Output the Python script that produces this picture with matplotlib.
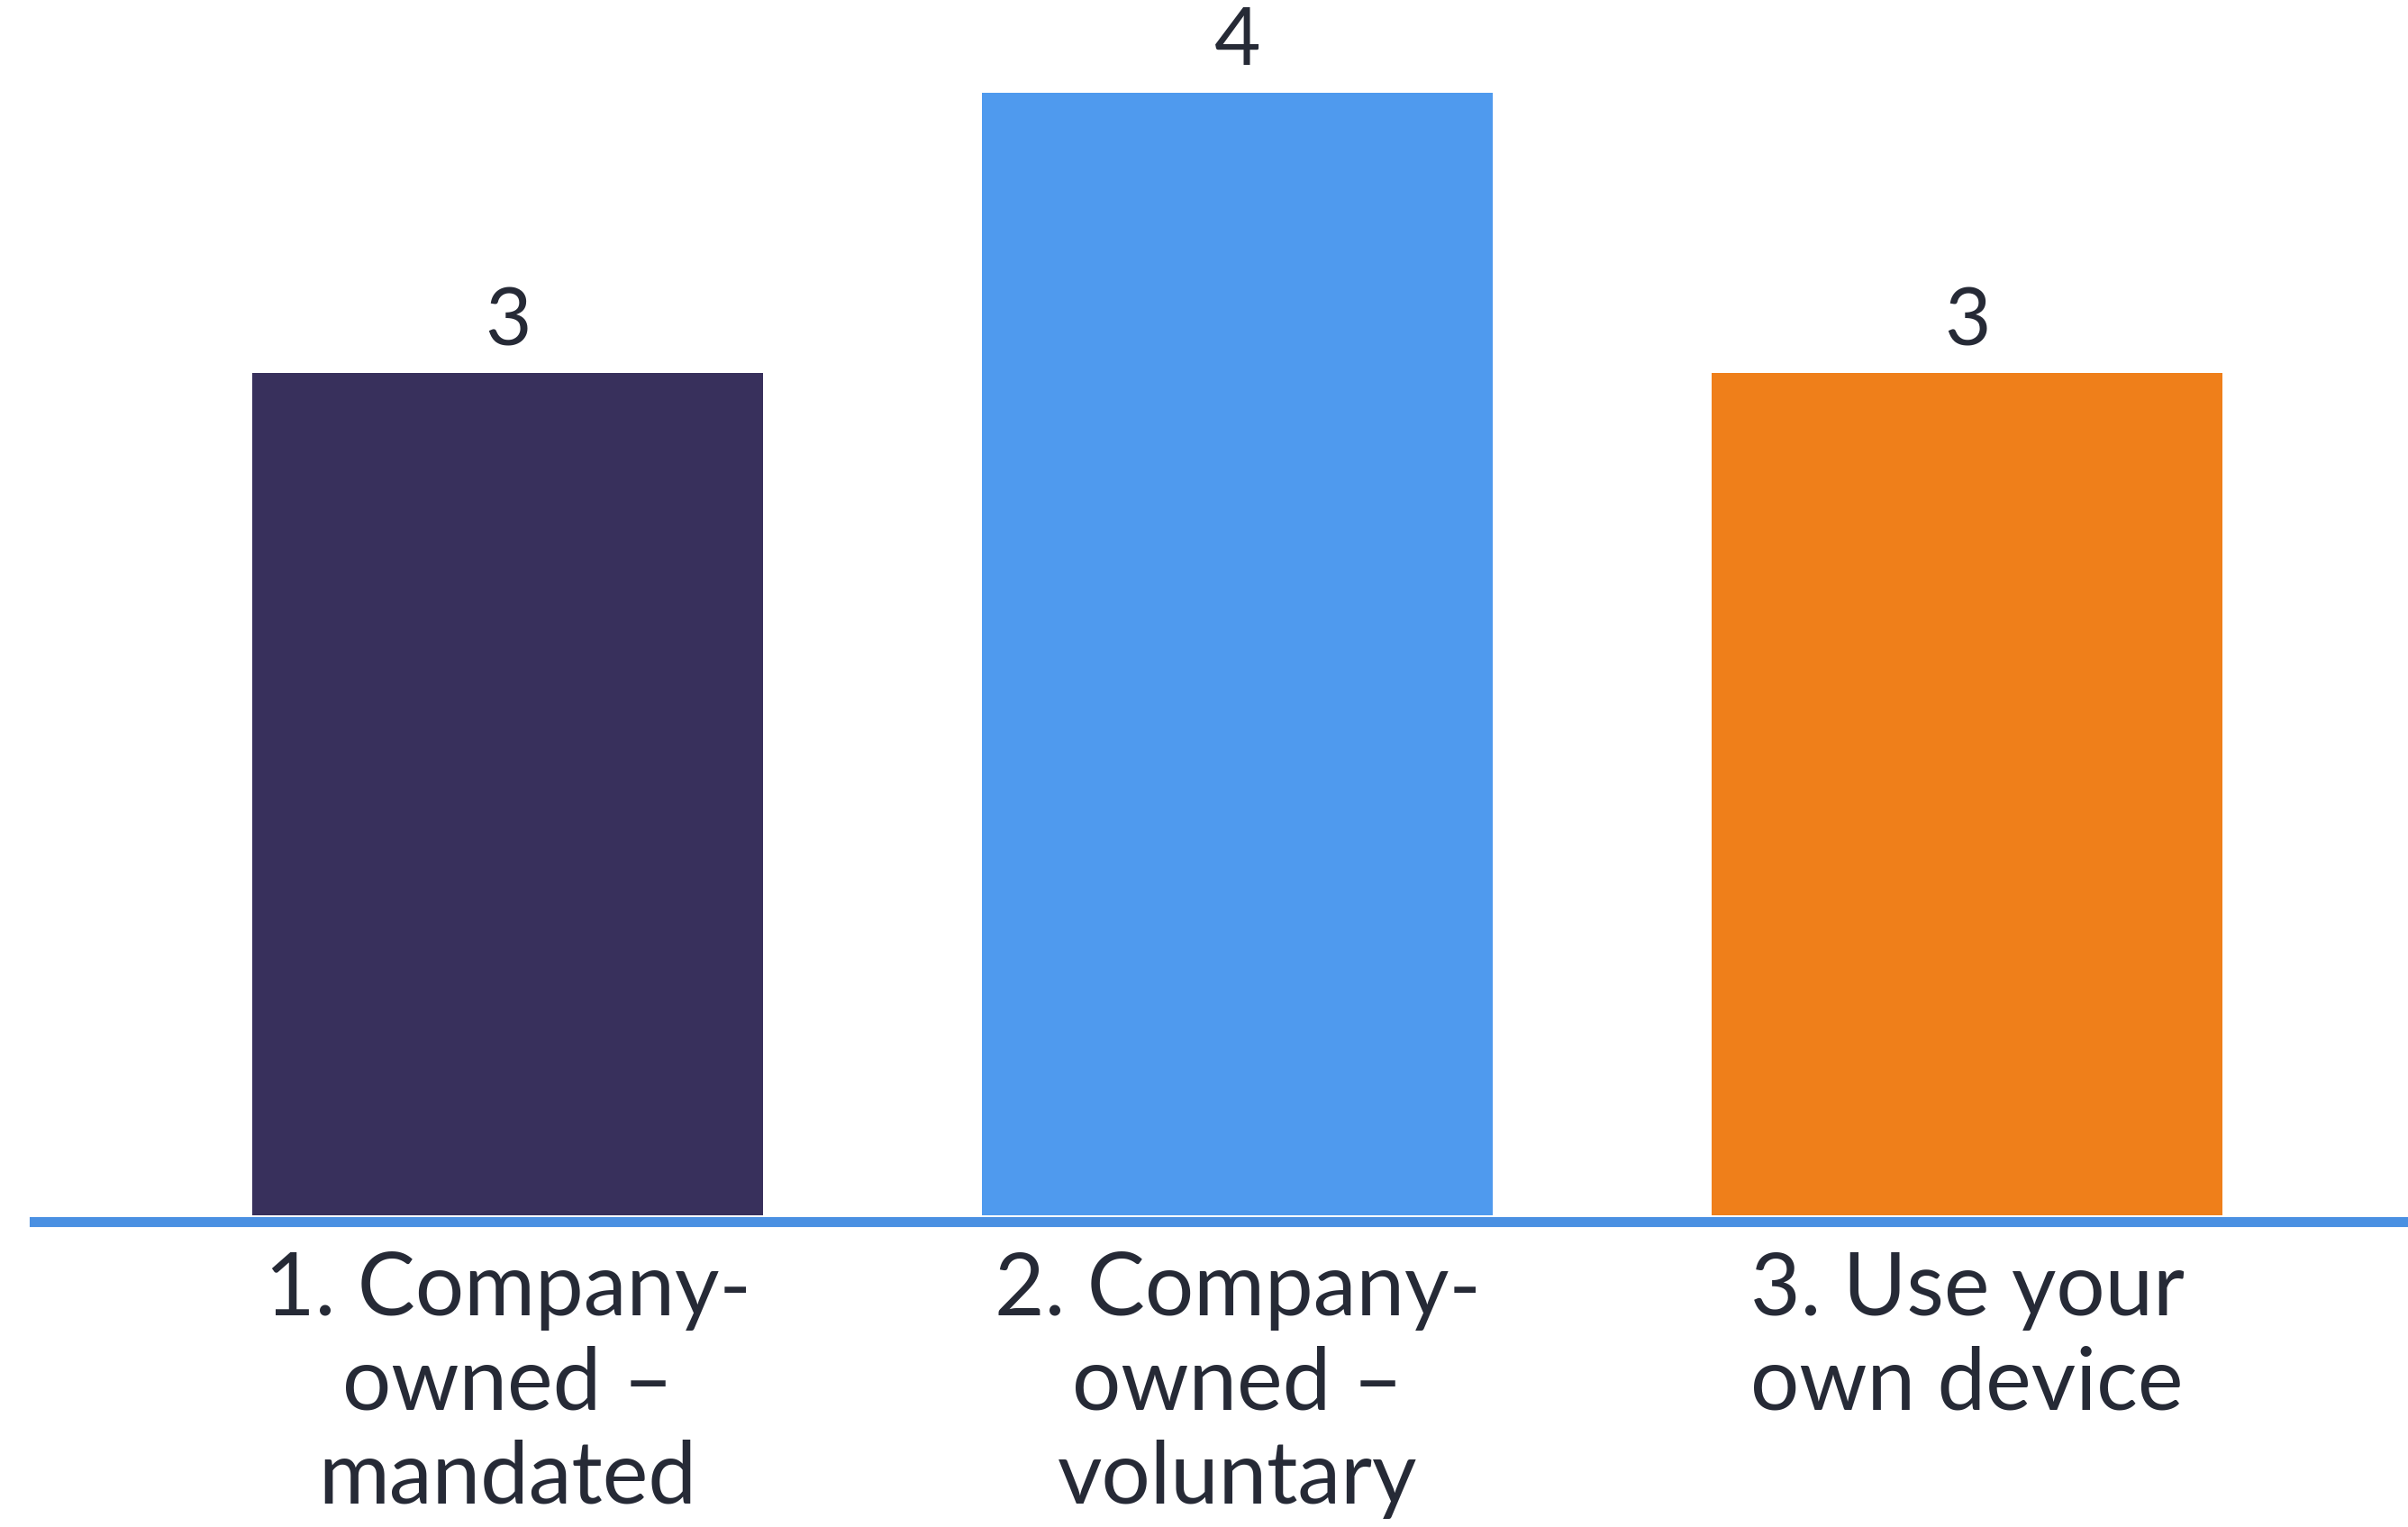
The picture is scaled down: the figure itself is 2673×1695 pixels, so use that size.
import matplotlib
matplotlib.use("Agg")
import matplotlib.pyplot as plt

# Device ownership models and their counts
categories = ["1. Company-\nowned –\nmandated",
              "2. Company-\nowned –\nvoluntary",
              "3. Use your\nown device"]
values = [3, 4, 3]
colors = ["#38305C", "#4F9AEE", "#EF7F1A"]

text_color = "#262A36"
plt.rcParams["font.family"] = ["Lato", "DejaVu Sans"]

fig = plt.figure(figsize=(26.73, 16.95), dpi=100)
left = 38 / 2673
ax = fig.add_axes([left, 0.2041, 1 - left, 0.7959])

x = range(len(values))
bars = ax.bar(x, values, width=0.7, color=colors, zorder=2)

for rect, v in zip(bars, values):
    ax.annotate(str(v), (rect.get_x() + rect.get_width() / 2, rect.get_height()),
                xytext=(0, 11), textcoords="offset points",
                ha="center", va="bottom", fontsize=64, color=text_color)

ax.set_xlim(-0.649, 2.604)
ax.set_ylim(0, 4.33)

for side in ["top", "right", "left"]:
    ax.spines[side].set_visible(False)
ax.spines["bottom"].set_color("#4A90E2")
ax.spines["bottom"].set_linewidth(8)
ax.spines["bottom"].set_position(("outward", 5))

ax.set_yticks([])
ax.set_xticks(list(x))
ax.set_xticklabels(categories, fontsize=69, color=text_color, linespacing=1.23)
ax.tick_params(axis="x", length=0, pad=24)

fig.savefig("out.png", dpi=100, facecolor="white")
